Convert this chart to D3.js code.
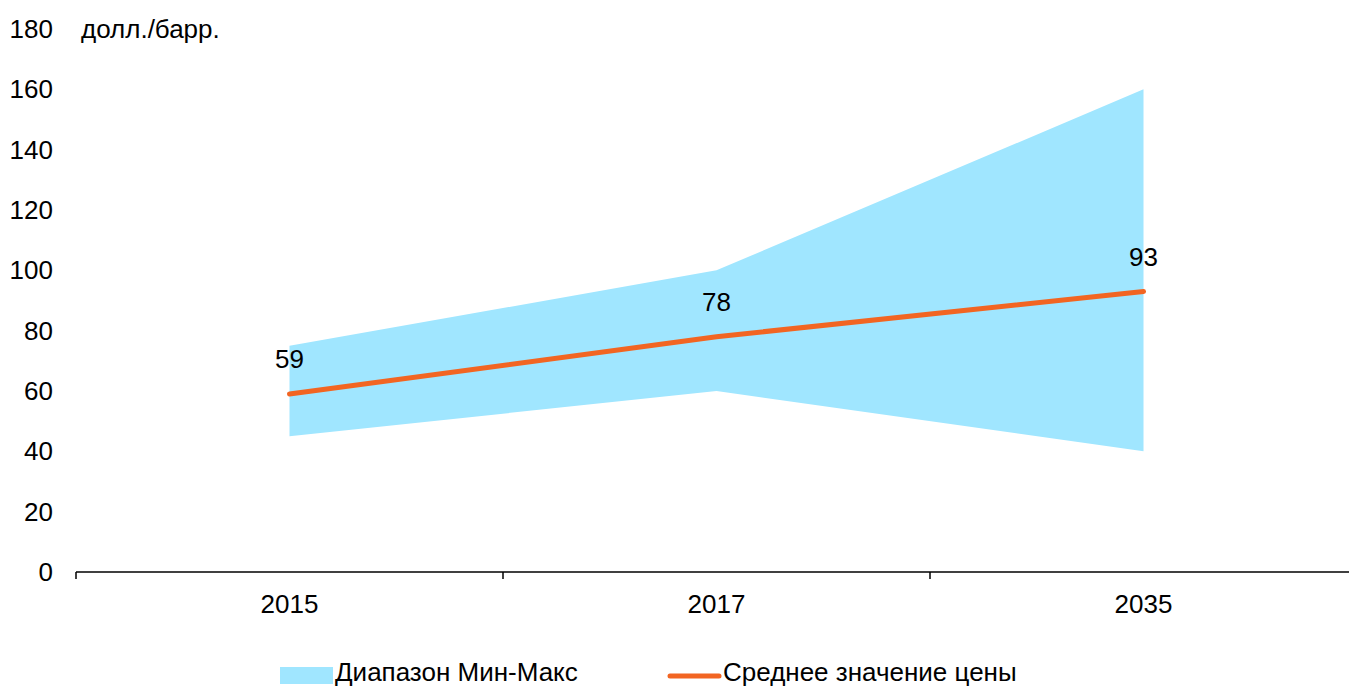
<!DOCTYPE html>
<meta charset="utf-8">
<style>
  body { margin: 0; background: #fff; }
  text { font-family: "Liberation Sans", Arial, sans-serif; fill: #000; }
</style>
<svg width="1349" height="688"></svg>
<script src="https://d3js.org/d3.v7.min.js"></script>
<script>

var years = ["2015", "2017", "2035"];
var minValues = [45, 60, 40];
var maxValues = [75, 100, 160];
var avgValues = [59, 78, 93];
var yTicks = [0, 20, 40, 60, 80, 100, 120, 140, 160, 180];

var svg = d3.select("svg"),
    fontSize = 26;

var x = d3.scaleBand()
    .domain(years)
    .range([76, 1357]);

var y = d3.scaleLinear()
    .domain([0, 180])
    .range([572, 29]);

var data = years.map(function(d, i) {
  return {year: d, min: minValues[i], max: maxValues[i], avg: avgValues[i]};
});

function cx(d) { return x(d.year) + x.bandwidth() / 2; }

// min-max band
var area = d3.area()
    .x(cx)
    .y0(function(d) { return y(d.min); })
    .y1(function(d) { return y(d.max); });

svg.append("path")
    .datum(data)
    .attr("fill", "#a0e6ff")
    .attr("d", area);

// average line
var line = d3.line()
    .x(cx)
    .y(function(d) { return y(d.avg); });

svg.append("path")
    .datum(data)
    .attr("fill", "none")
    .attr("stroke", "#f26522")
    .attr("stroke-width", 5)
    .attr("stroke-linecap", "round")
    .attr("d", line);

svg.selectAll(".lbl")
    .data(data)
  .enter().append("text")
    .attr("class", "lbl")
    .attr("x", cx)
    .attr("y", function(d) { return y(d.avg) - 35; })
    .attr("dy", "0.35em")
    .attr("text-anchor", "middle")
    .style("font-size", fontSize + "px")
    .text(function(d) { return d.avg; });

// y axis labels (no line)
svg.selectAll(".ytick")
    .data(yTicks)
  .enter().append("text")
    .attr("class", "ytick")
    .attr("x", 53)
    .attr("y", function(d) { return y(d); })
    .attr("dy", "0.35em")
    .attr("text-anchor", "end")
    .style("font-size", fontSize + "px")
    .text(function(d) { return d; });

svg.append("text")
    .attr("x", 81)
    .attr("y", y(180))
    .attr("dy", "0.35em")
    .style("font-size", fontSize + "px")
    .text("долл./барр.");

// x axis
var xAxis = svg.append("g")
    .attr("transform", "translate(0," + y(0) + ")");

xAxis.append("line")
    .attr("x1", 76).attr("x2", 1357)
    .attr("stroke", "#000").attr("stroke-width", 1.5);

var bounds = years.map(function(d) { return x(d); });
xAxis.selectAll(".tick")
    .data(bounds.concat([x(years[years.length - 1]) + x.bandwidth()]))
  .enter().append("line")
    .attr("x1", function(d) { return d; })
    .attr("x2", function(d) { return d; })
    .attr("y1", 0).attr("y2", 7)
    .attr("stroke", "#000").attr("stroke-width", 1.5);

xAxis.selectAll(".xlbl")
    .data(years)
  .enter().append("text")
    .attr("x", function(d) { return x(d) + x.bandwidth() / 2; })
    .attr("y", 32)
    .attr("dy", "0.35em")
    .attr("text-anchor", "middle")
    .style("font-size", fontSize + "px")
    .text(function(d) { return d; });

// legend
var legend = svg.append("g");
legend.append("rect")
    .attr("x", 280).attr("y", 667)
    .attr("width", 53).attr("height", 17)
    .attr("fill", "#a0e6ff");
legend.append("text")
    .attr("x", 335).attr("y", 672)
    .attr("dy", "0.35em")
    .style("font-size", fontSize + "px")
    .text("Диапазон Мин-Макс");
legend.append("line")
    .attr("x1", 670).attr("x2", 719)
    .attr("y1", 676).attr("y2", 676)
    .attr("stroke", "#f26522")
    .attr("stroke-width", 5)
    .attr("stroke-linecap", "round");
legend.append("text")
    .attr("x", 723).attr("y", 672)
    .attr("dy", "0.35em")
    .style("font-size", fontSize + "px")
    .text("Среднее значение цены");

</script>
